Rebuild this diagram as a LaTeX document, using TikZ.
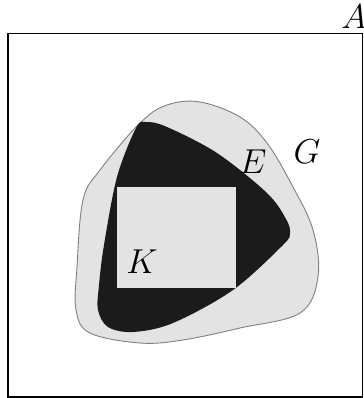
\documentclass[tikz,border=0pt]{standalone}
\usepackage{amsmath}
\usetikzlibrary{calc}
\definecolor{hellgrau}{HTML}{E3E3E3}
\definecolor{randgrau}{HTML}{808080}
\definecolor{dunkel}{HTML}{1B1B1B}
\tikzset{
  menge/.style={fill=hellgrau,draw=randgrau,line width=0.45pt},
  kern/.style={fill=dunkel},
  kompakt/.style={fill=hellgrau},
  lab/.style={font=\LARGE,inner sep=0pt},
}

\begin{document}
\begin{tikzpicture}[x=0.5pt,y=-0.5pt]
  \useasboundingbox (0,0) rectangle (364,398);
  % grundraum
  \draw[line width=0.6pt] (8,33.5) rectangle (362.5,397);
  \node[lab] (lblA) at (354,17) {$A$};
  % offene menge G
  \draw[menge] plot[smooth cycle,tension=0.6] coordinates {
    (140,123) (167,105) (200,102) (240,117) (267,143) (293,187) (313,230)
    (318,277) (300,313) (240,328) (183,340) (140,343) (90,333) (76,310)
    (77,267) (83,200) (100,170)};
  % menge E
  \fill[kern] plot[smooth cycle,tension=0.55] coordinates {
    (136,128) (146,122) (167,127) (217,153) (267,193) (286,219) (290,233)
    (283,245) (233,290) (173,323) (133,332) (108,327) (98,310) (99,285)
    (104,245) (117,177)};
  % kompakte menge K
  \fill[kompakt] (117,187) rectangle (236,288);
  \node[lab] (lblE) at (253,162) {$E$};
  \node[lab] (lblG) at (307,152) {$G$};
  \node[lab] (lblK) at (142,262) {$K$};
\end{tikzpicture}
\end{document}
